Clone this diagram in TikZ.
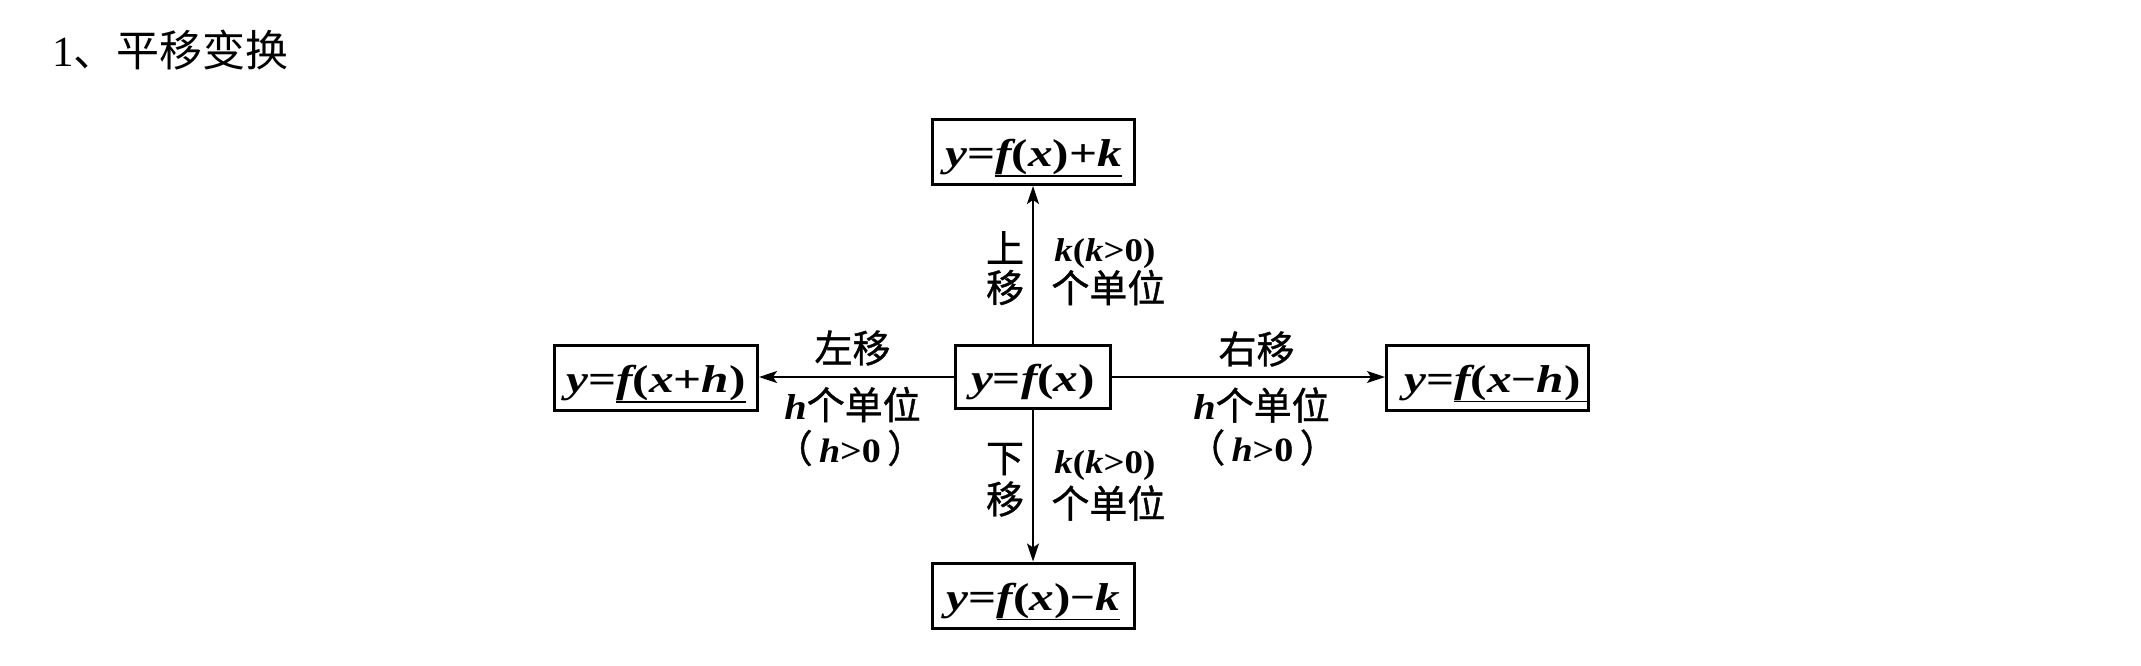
\documentclass[tikz,border=0pt]{standalone}
\usepackage{fontspec}
\setmainfont{Liberation Serif}
\newfontfamily\cjk{Noto Sans CJK SC}
\newfontfamily\cjkm[FakeBold=1]{Noto Sans CJK SC}
\newfontfamily\bxf[FakeStretch=1.27]{Liberation Serif}
\newfontfamily\lbf[FakeStretch=1.12]{Liberation Serif}
\usetikzlibrary{arrows.meta}
\newcommand\vi[1]{{\bfseries\itshape #1}}
\newcommand\mns{{\lbf\bfseries −}}
\newcommand\ulx[1]{\setbox0\hbox{#1}\rlap{\rule[-5.1pt]{\wd0}{0.9pt}}\box0}
\newcommand\kk{{\lbf\bfseries\fontsize{16.5}{17}\selectfont\textit{k}(\textit{k}>0)}}
\newcommand\hh{{\lbf\bfseries\itshape\fontsize{18}{19}\selectfont h}}
\newcommand\hpos{{（}\,{\lbf\bfseries\fontsize{17}{18}\selectfont\textit{h}>0}\,{）}}
\tikzset{
  fbox/.style={draw, line width=1.5pt, inner sep=0pt, text height=16pt, text depth=1.3pt,
    font=\bxf\bfseries\fontsize{19.4}{20}\selectfont},
  cjklab/.style={inner sep=0pt, font=\cjkm\fontsize{19}{20}\selectfont},
  latlab/.style={inner sep=0pt},
  conn/.style={line width=1pt, -{Stealth[length=9pt,width=6pt,inset=2pt]}},
}
\begin{document}
\begin{tikzpicture}[x=0.5pt,y=-0.5pt]
\useasboundingbox (0,0) rectangle (2141,665);
\node[anchor=west, inner sep=0pt, font=\fontsize{21.5}{22}\selectfont] (title) at (52,50) {1{\cjk 、平移变换}};
% boxes
\node[fbox, minimum width=77.5pt, minimum height=31.5pt] (c) at (1033,377) {\vi{y}=\vi{f}(\vi{x})};
\node[fbox, minimum width=101pt, minimum height=32.5pt] (t) at (1033.5,152) {\vi{y}=\ulx{\vi{f}(\vi{x})+\vi{k}}};
\node[fbox, minimum width=101pt, minimum height=32.5pt] (b) at (1033.5,595.5) {\vi{y}=\ulx{\vi{f}(\vi{x})\mns\vi{k}}};
\node[fbox, minimum width=101.5pt, minimum height=32.5pt] (l) at (656,378) {\vi{y}=\ulx{\vi{f}(\vi{x}+\vi{h})}};
\node[fbox, minimum width=98pt, minimum height=32.5pt] (r) at (1487.5,377.5) {\hspace{9pt}\vi{y}=\ulx{\vi{f}(\vi{x}\mns\vi{h})\hspace{4pt}}};
% connectors
\draw[conn] (c.north) -- (c.north |- t.south);
\draw[conn] (c.south) -- (c.south |- b.north);
\draw[conn] (c.west) -- (c.west -| l.east);
\draw[conn] (c.east) -- (c.east -| r.west);
% up labels
\node[cjklab] (u1) at (1005,247.5) {上};
\node[cjklab] (u2) at (1005,287.5) {移};
\node[latlab, anchor=west] (u3) at (1054,253.5) {\kk};
\node[cjklab, anchor=west] (u4) at (1051,287.5) {个单位};
% down labels
\node[cjklab] (d1) at (1005,459) {下};
\node[cjklab] (d2) at (1005,499) {移};
\node[latlab, anchor=west] (d3) at (1054,466) {\kk};
\node[cjklab, anchor=west] (d4) at (1051,503) {个单位};
% left labels
\node[cjklab] (l1) at (852.5,348) {左移};
\node[cjklab] (l2) at (852.5,404.5) {\hh 个单位};
\node[cjklab] (l3) at (850,448) {\hpos};
% right labels
\node[cjklab] (r1) at (1256.5,349) {右移};
\node[cjklab] (r2) at (1261.5,405) {\hh 个单位};
\node[cjklab] (r3) at (1262.5,447.5) {\hpos};
\end{tikzpicture}
\end{document}
